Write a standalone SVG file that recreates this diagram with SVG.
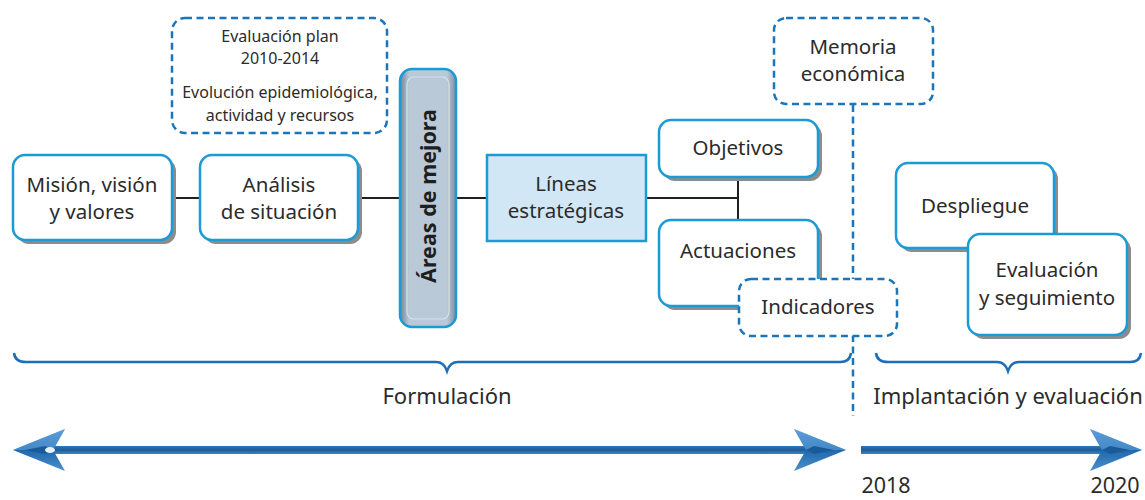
<svg xmlns="http://www.w3.org/2000/svg" width="1145" height="500" viewBox="0 0 1145 500">
<style>
text{font-family:"Noto Sans","Open Sans","Liberation Sans",sans-serif;fill:#2b2b2b;text-anchor:middle}
.t{font-size:20.5px}
.s{font-size:16px}
.b{font-size:22px}
.y{font-size:21.5px}
.box{fill:#fff;stroke:#1a9ad6;stroke-width:2.5}
.sh{fill:#8c8c8c}
.dash{fill:#fff;stroke:#1b75bb;stroke-width:2.5;stroke-dasharray:7 4.5}
.con{stroke:#231f20;stroke-width:2;fill:none}
.brace{stroke:#1b6fb8;stroke-width:2.5;fill:none}
</style>
<defs>
<linearGradient id="ga" x1="0" y1="0" x2="1" y2="0">
<stop offset="0" stop-color="#72808f"/>
<stop offset="0.16" stop-color="#b9c9d8"/>
<stop offset="0.84" stop-color="#b9c9d8"/>
<stop offset="1" stop-color="#7d8c9b"/>
</linearGradient>
<linearGradient id="shaft" x1="0" y1="0" x2="0" y2="1">
<stop offset="0" stop-color="#2f78b8"/>
<stop offset="0.5" stop-color="#1b5c9c"/>
<stop offset="1" stop-color="#3a86c6"/>
</linearGradient>
<linearGradient id="head" x1="0" y1="0" x2="0" y2="1">
<stop offset="0" stop-color="#5a9ad6"/>
<stop offset="0.5" stop-color="#1e68ab"/>
<stop offset="1" stop-color="#4c8fcf"/>
</linearGradient>
<g id="rh">
<path d="M0,0 L-52,-21 L-40,0 L-52,21 Z" fill="url(#head)"/>
<path d="M0,0 L-40,0 L-52,-21 Z" fill="#5d9fda" opacity="0.6"/>
<path d="M-40,0 L-32,-4 L-12,0 L-32,4 Z" fill="#1a5a98"/>
</g>
</defs>

<g id="connectors">
<line class="con" x1="172" y1="198" x2="200" y2="198"/>
<line class="con" x1="358" y1="198" x2="400" y2="198"/>
<line class="con" x1="456" y1="198" x2="487" y2="198"/>
<line class="con" x1="646" y1="198" x2="738" y2="198"/>
<line class="con" x1="738" y1="177" x2="738" y2="220"/>
<line x1="853" y1="105" x2="853" y2="416" stroke="#1b75bb" stroke-width="2.5" stroke-dasharray="7 4.5"/>
</g>

<g id="evaluacion-plan">
<rect class="dash" x="172" y="18" width="215" height="115" rx="13"/>
<text class="s" x="280" y="42">Evaluación plan</text>
<text class="s" x="280" y="64">2010-2014</text>
<text class="s" x="280" y="98">Evolución epidemiológica,</text>
<text class="s" x="280" y="121">actividad y recursos</text>
</g>

<g id="mision">
<rect class="sh" x="17" y="159" width="159" height="85" rx="12"/>
<rect class="box" x="13" y="155" width="159" height="85" rx="12"/>
<text class="t" x="92" y="192">Misión, visión</text>
<text class="t" x="92" y="219">y valores</text>
</g>

<g id="analisis">
<rect class="sh" x="204" y="159" width="158" height="85" rx="12"/>
<rect class="box" x="200" y="155" width="158" height="85" rx="12"/>
<text class="t" x="279" y="192">Análisis</text>
<text class="t" x="279" y="219">de situación</text>
</g>

<g id="areas">
<rect x="400" y="69" width="56" height="258" rx="12" fill="url(#ga)" stroke="#1a9ad6" stroke-width="2.5"/>
<rect x="407" y="77" width="42" height="242" rx="7" fill="none" stroke="#d6e2ec" stroke-width="1.2"/>
<text x="428" y="196" transform="rotate(-90 428 196)" dy="8" style="font-size:21.5px;font-weight:bold;fill:#1e1e1e">Áreas de mejora</text>
</g>

<g id="lineas">
<rect x="487" y="155" width="159" height="86" fill="#d2e7f6" stroke="#1a9ad6" stroke-width="2.5"/>
<text class="t" x="566" y="191">Líneas</text>
<text class="t" x="566" y="218">estratégicas</text>
</g>

<g id="objetivos">
<rect class="sh" x="663" y="124" width="159" height="57" rx="12"/>
<rect class="box" x="659" y="120" width="159" height="57" rx="12"/>
<text class="t" x="738" y="155">Objetivos</text>
</g>

<g id="actuaciones">
<rect class="sh" x="663" y="224" width="159" height="86" rx="12"/>
<rect class="box" x="659" y="220" width="159" height="86" rx="12"/>
<text class="t" x="738" y="258">Actuaciones</text>
</g>

<g id="indicadores">
<rect class="dash" x="739" y="279" width="158" height="57" rx="12"/>
<text class="t" x="818" y="314">Indicadores</text>
</g>

<g id="memoria">
<rect class="dash" x="774" y="18" width="159" height="86" rx="12"/>
<text class="t" x="853" y="54">Memoria</text>
<text class="t" x="853" y="81">económica</text>
</g>

<g id="despliegue">
<rect class="sh" x="900" y="167" width="158" height="85" rx="12"/>
<rect class="box" x="896" y="163" width="158" height="85" rx="12"/>
<text class="t" x="975" y="213">Despliegue</text>
</g>

<g id="evaluacion-seguimiento">
<rect class="sh" x="972" y="238" width="159" height="101" rx="12"/>
<rect class="box" x="968" y="234" width="159" height="101" rx="12"/>
<text class="t" x="1047" y="277">Evaluación</text>
<text class="t" x="1047" y="305">y seguimiento</text>
</g>

<g id="braces">
<path class="brace" d="M14,353 Q15,362 26,362 L436,362 Q444,362 447,371 Q450,362 458,362 L840,362 Q850,362 851,353"/>
<path class="brace" d="M876,353 Q877,362 888,362 L997,362 Q1005,362 1008,371 Q1011,362 1019,362 L1130,362 Q1140,362 1141,353"/>
</g>

<g id="labels">
<text class="b" x="447" y="404">Formulación</text>
<text class="b" x="1008" y="404">Implantación y evaluación</text>
<text class="y" x="886" y="493">2018</text>
<text class="y" x="1115" y="493">2020</text>
</g>

<g id="timeline">
<rect x="50" y="446" width="760" height="8" fill="url(#shaft)"/>
<use href="#rh" transform="translate(846,450)"/>
<use href="#rh" transform="translate(13,450) scale(-1,1)"/>
<ellipse cx="50" cy="450" rx="5" ry="3" fill="#e6f0fa"/>
<rect x="861" y="446" width="250" height="8" fill="url(#shaft)"/>
<use href="#rh" transform="translate(1142,450)"/>
</g>
</svg>
